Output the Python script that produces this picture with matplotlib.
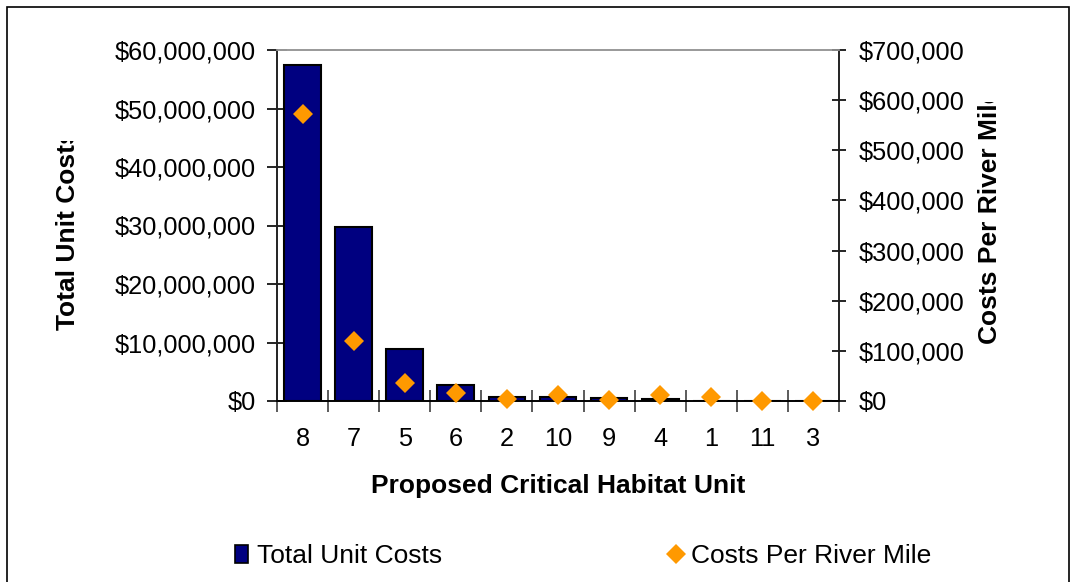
import matplotlib
matplotlib.use("Agg")
import matplotlib.pyplot as plt
from matplotlib.ticker import FuncFormatter, MultipleLocator
from matplotlib.patches import Rectangle
from matplotlib.lines import Line2D
from matplotlib.transforms import Bbox

plt.rcParams['font.family'] = ['Liberation Sans', 'DejaVu Sans']

units = ['8', '7', '5', '6', '2', '10', '9', '4', '1', '11', '3']
total_unit_costs = [57400000, 29700000, 8860000, 2700000, 730000, 700000, 450000, 400000, 30000, 10000, 10000]
costs_per_river_mile = [573000, 119000, 35000, 16500, 4000, 12000, 2000, 12000, 7400, 500, 500]

W, H = 1071, 582
fig = plt.figure(figsize=(W / 100, H / 100), dpi=100)

x0, x1, y0, y1 = 277, 839, 50, 401
ax = fig.add_axes([x0 / W, 1 - y1 / H, (x1 - x0) / W, (y1 - y0) / H])
ax2 = ax.twinx()

NAVY = '#000080'
ORANGE = '#FF9900'
xs = list(range(len(units)))
ax.bar(xs, total_unit_costs, width=0.72, color=NAVY, edgecolor='black', linewidth=1.5, zorder=2)
ax2.plot(xs, costs_per_river_mile, linestyle='none', marker='D', markersize=10,
         color=ORANGE, markeredgewidth=0, zorder=3, clip_on=False)

ax.set_xlim(-0.5, len(units) - 0.5)
ax.set_ylim(0, 60000000)
ax2.set_ylim(0, 700000)
ax.yaxis.set_major_locator(MultipleLocator(10000000))
ax2.yaxis.set_major_locator(MultipleLocator(100000))
fmt = FuncFormatter(lambda v, p: '${:,.0f}'.format(v))
ax.yaxis.set_major_formatter(fmt)
ax2.yaxis.set_major_formatter(fmt)

ax.set_xticks(xs)
ax.set_xticklabels(units)
ax.set_xticks([i + 0.5 for i in range(-1, len(units))], minor=True)
ax.tick_params(axis='x', which='major', length=0, pad=19, labelsize=18.3)
ax.tick_params(axis='x', which='minor', length=16, direction='inout', width=1.2, color='#404040')
ax.tick_params(axis='y', which='major', length=14, direction='inout', width=1.2, pad=8, labelsize=18.3)
ax2.tick_params(axis='y', which='major', length=10, direction='inout', width=1.2, pad=9, labelsize=18.3)

for a in (ax, ax2):
    for s in a.spines.values():
        s.set_linewidth(1.2)
    a.spines['top'].set_color('#999999')
    a.spines['left'].set_color('#222222')
    a.spines['right'].set_color('#222222')
    a.spines['bottom'].set_color('black')
ax.set_zorder(1)
ax2.set_zorder(2)
ax.patch.set_visible(False)

fig.text(558 / W, 1 - 486 / H, 'Proposed Critical Habitat Unit', ha='center', va='center',
         fontsize=19, fontweight='bold')

t1 = fig.text(68 / W, 1 - 230 / H, 'Total Unit Costs', rotation=90, ha='center', va='center',
              fontsize=19, fontweight='bold')
t1.set_clip_box(Bbox.from_extents(0, 0, W, H - 141))
t1.set_clip_on(True)

t2 = fig.text(990 / W, 1 - 216 / H, 'Costs Per River Mile', rotation=90, ha='center', va='center',
              fontsize=19, fontweight='bold')
t2.set_clip_box(Bbox.from_extents(0, 0, W, H - 102))
t2.set_clip_on(True)

handles = [Rectangle((0, 0), 1, 1, facecolor=NAVY, edgecolor='black', linewidth=1.2),
           Line2D([], [], linestyle='none', marker='D', markersize=10, color=ORANGE, markeredgewidth=0)]
fig.legend(handles, ['Total Unit Costs', 'Costs Per River Mile'], ncol=2,
           loc='center left', bbox_to_anchor=(224 / W, 1 - 556 / H), frameon=False,
           fontsize=19, handlelength=0.5, handleheight=0.7, handletextpad=0.35,
           columnspacing=8.6, borderaxespad=0)

fig.patches.append(Rectangle((7 / W, -0.05), (1069 - 7) / W, 1.05 - 7 / H, transform=fig.transFigure,
                             fill=False, edgecolor='black', linewidth=1.2))

fig.savefig('out.png', dpi=100)
